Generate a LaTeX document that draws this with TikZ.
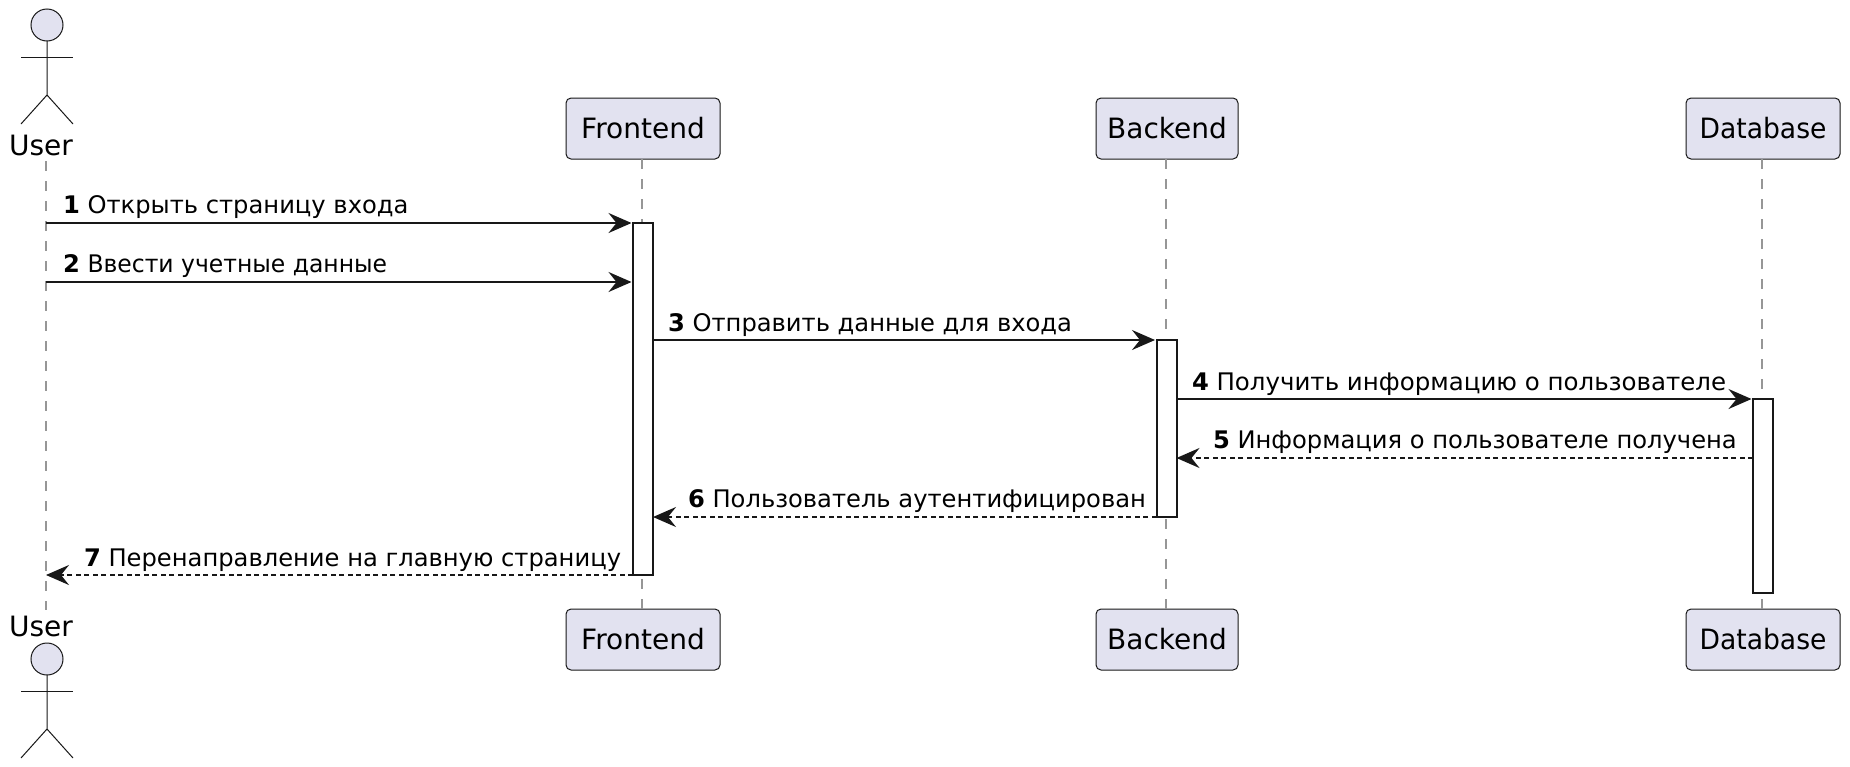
\documentclass[tikz,border=0pt]{standalone}
\usepackage{fontspec}
\usepackage{xcolor}
\usetikzlibrary{arrows.meta}
\setmainfont{DejaVu Sans}
\newfontfamily\dbfont[FakeStretch=0.95]{DejaVu Sans}
\newfontfamily\narrowfont[FakeStretch=0.97]{DejaVu Sans}
\newfontfamily\widefont[FakeStretch=1.012]{DejaVu Sans}
\definecolor{lineColor}{HTML}{181818}
\definecolor{boxColor}{HTML}{E2E2F0}
\definecolor{lifeColor}{RGB}{150,150,150}
\tikzset{
  partbox/.style={draw=lineColor,fill=boxColor,line width=1pt,rounded corners=5pt,inner sep=0pt,outer sep=0pt,
    minimum height=61pt,font=\fontsize{28}{28}\selectfont,text height=20pt,text depth=1pt},
  actbar/.style={draw=lineColor,fill=white,line width=2pt,inner sep=0pt,outer sep=0pt,minimum width=20pt},
  lifeline/.style={draw=lifeColor,line width=2pt,dash pattern=on 10pt off 10pt},
  msgline/.style={draw=lineColor,line width=2pt,shorten >=1.5pt,-{Stealth[length=23pt,width=20pt,inset=8pt]}},
  msgback/.style={msgline,shorten >=0pt,dash pattern=on 5pt off 3.5pt},
  msgtext/.style={anchor=base west,inner sep=0pt,outer sep=0pt,font=\fontsize{24.2}{26}\selectfont},
  acttext/.style={anchor=base,inner sep=0pt,outer sep=0pt,font=\fontsize{28}{28}\selectfont},
  acthead/.style={circle,draw=lineColor,fill=boxColor,line width=1pt,inner sep=0pt,outer sep=0pt,minimum size=32pt}
}
\begin{document}
\begin{tikzpicture}[x=1pt,y=-1pt]
\path[use as bounding box,fill=white] (0,0) rectangle (1850,766);

% participants
\node[partbox,minimum width=154pt] (frontTop) at (643,128.5) {Frontend};
\node[partbox,minimum width=142pt] (backTop) at (1167,128.5) {Backend};
\node[partbox,minimum width=154pt] (dbTop) at (1763,128.5) {\dbfont Database};
\node[partbox,minimum width=154pt] (frontBot) at (643,639.5) {Frontend};
\node[partbox,minimum width=142pt] (backBot) at (1167,639.5) {Backend};
\node[partbox,minimum width=154pt] (dbBot) at (1763,639.5) {\dbfont Database};

% actor, top and bottom
\node[acttext] (userTop) at (41,155) {User};
\node[acttext] (userBot) at (41,636) {User};
\foreach \headname/\yy in {headTop/25,headBot/659}{
  \node[acthead] (\headname) at (47,\yy) {};
  \draw[draw=lineColor,line width=1pt] (\headname.south) -- ++(0,54) -- ++(-26,29) ++(26,-29) -- ++(26,29);
  \draw[draw=lineColor,line width=1pt] ([yshift=-16pt]\headname.south) ++(-26,0) -- ++(52,0);
}

% lifelines
\coordinate (userUp) at (46,161);
\coordinate (userDn) at (46,610);
\draw[lifeline] (userUp) -- (userDn);
\draw[lifeline] ([xshift=-1pt]frontTop.south) -- ([xshift=-1pt]frontBot.north);
\draw[lifeline] ([xshift=-1pt]backTop.south) -- ([xshift=-1pt]backBot.north);
\draw[lifeline] ([xshift=-1pt]dbTop.south) -- ([xshift=-1pt]dbBot.north);

% activations
\node[actbar,minimum height=352pt] (actFront) at (643,399) {};
\node[actbar,minimum height=177pt] (actBack) at (1166.5,428.5) {};
\node[actbar,minimum height=194pt] (actDb) at (1763,496) {};

% messages
\coordinate (rowOne) at (46,223);
\coordinate (rowTwo) at (46,282);
\coordinate (rowSeven) at (46,575);
\draw[msgline] (rowOne) -- (actFront.west |- rowOne);
\draw[msgline] (rowTwo) -- (actFront.west |- rowTwo);
\draw[msgline] (actFront.east |- actBack.north) -- (actBack.north west);
\draw[msgline] (actBack.east |- actDb.north) -- (actDb.north west);
\coordinate (rowFive) at (1753,458);
\draw[msgback] (rowFive) -- (actBack.east |- rowFive);
\draw[msgback] (actBack.south west) -- (actFront.east |- actBack.south);
\draw[msgback] (actFront.south west) -- (rowSeven);

\node[msgtext] (msgOne) at (63,213) {\textbf{1} Открыть страницу входа};
\node[msgtext] (msgTwo) at (63,272) {\textbf{2} {\narrowfont Ввести учетные данные}};
\node[msgtext] (msgThree) at (668,331) {\textbf{3} Отправить данные для входа};
\node[msgtext] (msgFour) at (1192,390) {\textbf{4} {\widefont Получить информацию о пользователе}};
\node[msgtext] (msgFive) at (1213,448) {\textbf{5} Информация о пользователе получена};
\node[msgtext] (msgSix) at (688,507) {\textbf{6} Пользователь аутентифицирован};
\node[msgtext] (msgSeven) at (84,566) {\textbf{7} Перенаправление на главную страницу};
\end{tikzpicture}
\end{document}
